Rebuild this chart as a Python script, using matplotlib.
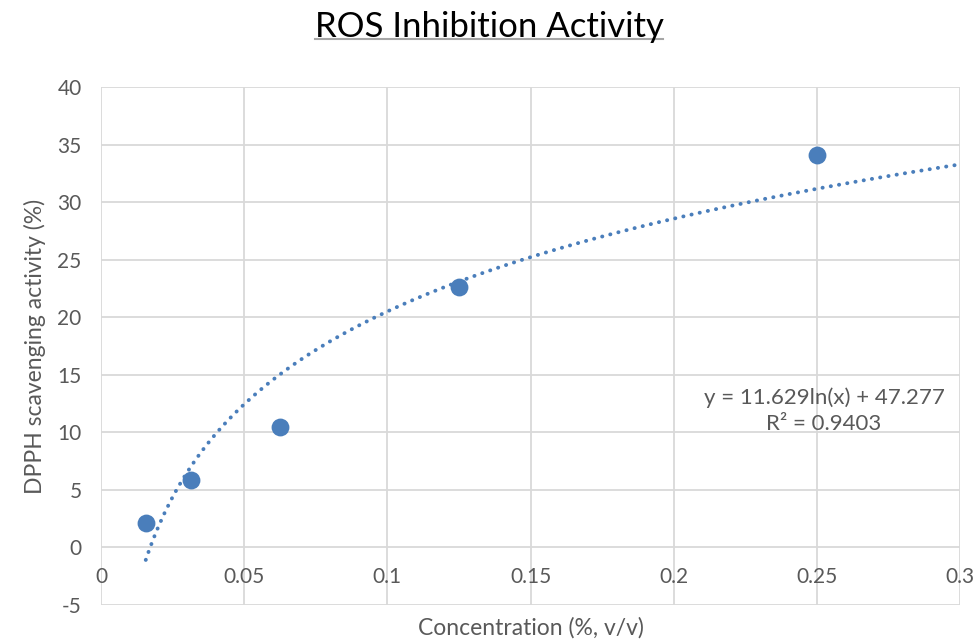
import numpy as np
import matplotlib.pyplot as plt

# concentration (%, v/v) and DPPH scavenging activity (%)
conc = [0.015625, 0.03125, 0.0625, 0.125, 0.25]
activity = [2.1, 5.9, 10.5, 22.6, 34.1]

# log trendline as printed on the chart
slope = 11.629
intercept = 47.277
r2 = 0.9403

xticks = [0, 0.05, 0.1, 0.15, 0.2, 0.25, 0.3]
xticklabels = ["0", "0.05", "0.1", "0.15", "0.2", "0.25", "0.3"]
yticks = [-5, 0, 5, 10, 15, 20, 25, 30, 35, 40]

blue = "#4A7EBB"
grey_txt = "#595959"
grid_col = "#D9D9D9"

plt.rcParams["font.family"] = ["Lato", "DejaVu Sans"]

fig = plt.figure(figsize=(9.78, 6.41), dpi=100)
ax = fig.add_axes([0.1033, 0.0562, 0.8783, 0.8081])

ax.set_xlim(0, 0.3)
ax.set_ylim(-5, 40)

# grid
for yv in yticks:
    ax.axhline(yv, color=grid_col, lw=1.3, zorder=0)
for xv in xticks:
    ax.axvline(xv, color=grid_col, lw=1.3, zorder=0)
for s in ax.spines.values():
    s.set_visible(False)

# trendline
xt = np.linspace(conc[0], 0.3, 300)
yt = slope * np.log(xt) + intercept
ax.plot(xt, yt, color=blue, lw=2.8, linestyle=(0, (0.05, 2.1)),
        dash_capstyle="round", zorder=2)

ax.scatter(conc, activity, s=165, color=blue, zorder=3, linewidths=0)

# y ticks
ax.set_yticks(yticks)
ax.set_yticklabels([str(v) for v in yticks])
ax.tick_params(axis="y", length=0, pad=14, labelsize=15, labelcolor=grey_txt)

# x tick labels sit under the y=0 line (axis crosses at 0)
ax.set_xticks([])
for xv, lab in zip(xticks, xticklabels):
    ax.annotate(lab, xy=(xv, 0), xytext=(0, -14), textcoords="offset points",
                ha="center", va="top", fontsize=15, color=grey_txt,
                annotation_clip=False)

ax.set_xlabel("Concentration (%, v/v)", fontsize=16.5, color=grey_txt, labelpad=9)
ax.set_ylabel("DPPH scavenging activity (%)", fontsize=16.5, color=grey_txt, labelpad=8)

ax.text(0.2525, 13.0, f"y = {slope}ln(x) + {intercept}", ha="center", va="center",
        fontsize=16, color=grey_txt)
ax.text(0.2525, 10.7, f"R² = {r2}", ha="center", va="center",
        fontsize=16, color=grey_txt)

t = fig.text(0.5, 0.958, "ROS Inhibition Activity", ha="center", va="center",
             fontsize=25, color="#000000")
fig.canvas.draw()
bb = t.get_window_extent().transformed(fig.transFigure.inverted())
fig.add_artist(plt.Line2D([bb.x0, bb.x1], [bb.y0 + 0.006, bb.y0 + 0.006],
                          transform=fig.transFigure, color="#A6A6A6", lw=1.5))

fig.savefig("out.png", dpi=100)
